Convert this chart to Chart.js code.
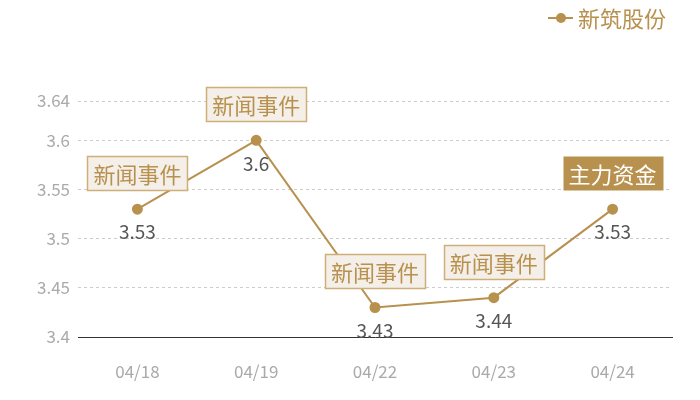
<!DOCTYPE html>
<html>
<head>
<meta charset="utf-8">
<script src="https://cdn.jsdelivr.net/npm/chart.js@4/dist/chart.umd.min.js"></script>
<style>
  html, body { margin: 0; padding: 0; background: #fff; }
  #wrap { width: 700px; height: 400px; }
</style>
</head>
<body>
<div id="wrap"><canvas id="price-chart"></canvas></div>
<script>
const dates = ['04/18', '04/19', '04/22', '04/23', '04/24'];
const prices = [3.53, 3.6, 3.43, 3.44, 3.53];
const events = ['新闻事件', '新闻事件', '新闻事件', '新闻事件', '主力资金'];
const highlighted = [false, false, false, false, true];
const yTicks = [3.4, 3.45, 3.5, 3.55, 3.6, 3.64];
const seriesName = '新筑股份';

const gold = '#b8914f';
const font = '"Noto Sans CJK SC", "Noto Sans", sans-serif';

// labels under points, event boxes above them, legend top right
const overlay = {
    id: 'overlay',
    afterDatasetsDraw(chart) {
        const ctx = chart.ctx;
        const pts = chart.getDatasetMeta(0).data;
        ctx.save();
        ctx.textAlign = 'center';
        ctx.textBaseline = 'middle';
        for (let i = 0; i < pts.length; i++) {
            let p = pts[i];
            ctx.font = '19px ' + font;
            ctx.fillStyle = '#555';
            ctx.fillText(String(prices[i]), p.x, p.y + 23);

            ctx.font = '22px ' + font;
            let w = ctx.measureText(events[i]).width + 12;
            let h = 34;
            let x0 = Math.round(p.x - w / 2) + 0.5;
            let y0 = Math.round(p.y - 19 - h) + 0.5;
            if (highlighted[i]) {
                ctx.fillStyle = gold;
                ctx.fillRect(x0, y0, w, h);
                ctx.fillStyle = '#fff';
            } else {
                ctx.fillStyle = '#f4efe8';
                ctx.fillRect(x0, y0, w, h);
                ctx.strokeStyle = '#cfae78';
                ctx.lineWidth = 1.5;
                ctx.strokeRect(x0, y0, w, h);
                ctx.fillStyle = gold;
            }
            ctx.fillText(events[i], p.x, y0 + h / 2 + 1);
        }

        // legend
        ctx.strokeStyle = gold;
        ctx.lineWidth = 2;
        ctx.beginPath();
        ctx.moveTo(548, 18);
        ctx.lineTo(573, 18);
        ctx.stroke();
        ctx.fillStyle = gold;
        ctx.beginPath();
        ctx.arc(561, 18, 5, 0, Math.PI * 2);
        ctx.fill();
        ctx.font = '22px ' + font;
        ctx.textAlign = 'left';
        ctx.fillText(seriesName, 578, 19);
        ctx.restore();
    }
};

new Chart(document.getElementById('price-chart'), {
    type: 'line',
    data: {
        labels: dates,
        datasets: [{
            label: seriesName,
            data: prices,
            borderColor: gold,
            backgroundColor: gold,
            borderWidth: 2,
            pointRadius: 4.5,
            pointHoverRadius: 4.5,
            tension: 0
        }]
    },
    options: {
        responsive: true,
        maintainAspectRatio: false,
        animation: false,
        layout: { padding: { top: 101, right: 28, left: 0, bottom: 0 } },
        plugins: {
            legend: { display: false },
            tooltip: { enabled: false }
        },
        scales: {
            x: {
                offset: true,
                grid: { display: false, drawTicks: false },
                border: { display: true, color: '#333', width: 1 },
                ticks: { color: '#aaa', font: { size: 17, family: font }, padding: 24 },
                afterFit(scale) { scale.height = 63; }
            },
            y: {
                min: 3.4,
                max: 3.64,
                afterBuildTicks(scale) {
                    scale.ticks = yTicks.map(v => ({ value: v }));
                },
                grid: { color: '#ccc', drawTicks: false },
                border: { display: false, dash: [3, 3] },
                ticks: {
                    color: '#aaa',
                    font: { size: 17, family: font },
                    padding: 8,
                    callback: v => String(v)
                },
                afterFit(scale) { scale.width = 78; }
            }
        }
    },
    plugins: [overlay]
});
</script>
</body>
</html>
